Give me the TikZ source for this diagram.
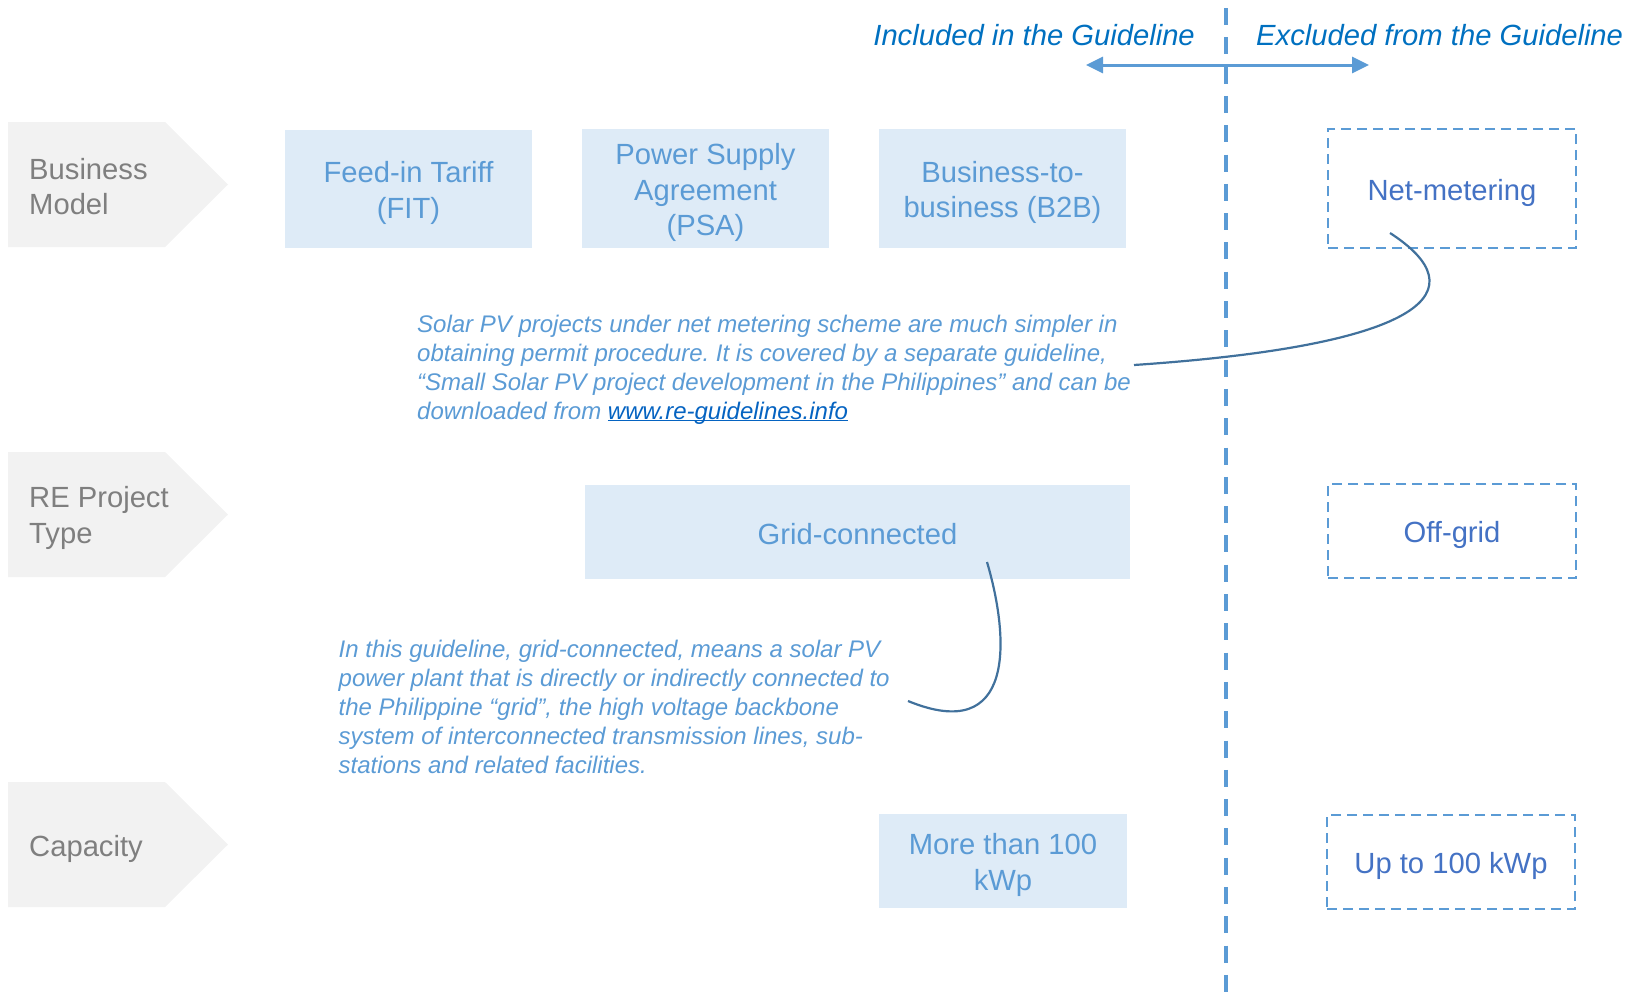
\documentclass[tikz,border=0pt]{standalone}
\usepackage{fontspec}
\setmainfont{Liberation Sans}
\usetikzlibrary{arrows.meta}
\frenchspacing
\definecolor{boxfill}{HTML}{DEEBF7}
\definecolor{boxtext}{HTML}{5B9BD5}
\definecolor{exttext}{HTML}{4472C4}
\definecolor{hdr}{HTML}{0070C0}
\definecolor{greyfill}{HTML}{F2F2F2}
\definecolor{greytext}{HTML}{7F7F7F}
\definecolor{curvecol}{HTML}{41719C}
\definecolor{linkcol}{HTML}{0563C1}
\begin{document}
\begin{tikzpicture}[x=1pt,y=-1pt,
  inshape/.style={fill=boxfill, draw=none, inner sep=0pt},
  exshape/.style={draw=boxtext, line width=2.5pt, dash pattern=on 10pt off 6pt, fill=none, inner sep=0pt},
  intext/.style={text=boxtext, font=\fontsize{29.2}{35.4}\selectfont, align=center, inner sep=0pt},
  extext/.style={text=exttext, font=\fontsize{29.2}{35.4}\selectfont, align=center, inner sep=0pt},
  rowshape/.style={fill=greyfill},
  rowlabel/.style={text=greytext, font=\fontsize{29.2}{35.4}\selectfont, align=left, inner sep=0pt, anchor=west},
  hdrtext/.style={text=hdr, font=\fontsize{29.2}{35.4}\selectfont\itshape, inner sep=0pt},
  arrowline/.style={draw=boxtext, line width=3pt, {Triangle[length=17pt,width=16pt]}-{Triangle[length=17pt,width=16pt]}},
  divider/.style={draw=boxtext, line width=4pt, dash pattern=on 17pt off 12.3pt},
  note/.style={text=boxtext, font=\fontsize{24}{29}\selectfont\itshape, align=left, inner sep=0pt, anchor=base west},
  conn/.style={draw=curvecol, line width=2.2pt}
]
\useasboundingbox (0,0) rectangle (1633,1001);

% row arrows
\fill[rowshape] (8,122) -- (165,122) -- (228,184.5) -- (165,247) -- (8,247) -- cycle;
\fill[rowshape] (8,452) -- (165,452) -- (228,514.5) -- (165,577) -- (8,577) -- cycle;
\fill[rowshape] (8,782) -- (165,782) -- (228,844.5) -- (165,907) -- (8,907) -- cycle;
\node[rowlabel] (bm) at (29,186.5) {Business\\Model};
\node[rowlabel] (re) at (29,518) {RE Project\\Type};
\node[rowlabel] (cap) at (29,849) {Capacity};

% included boxes
\node[inshape, minimum width=247pt, minimum height=118pt] (fit) at (408.5,189) {};
\node[inshape, minimum width=247pt, minimum height=119pt] (psa) at (705.5,188.5) {};
\node[inshape, minimum width=247pt, minimum height=119pt] (b2b) at (1002.5,188.5) {};
\node[inshape, minimum width=545pt, minimum height=94pt] (grid) at (857.5,532) {};
\node[inshape, minimum width=248pt, minimum height=94pt] (more) at (1003,861) {};
\node[intext] (fitt) at ([yshift=-4pt]fit.center) {Feed-in Tariff\\(FIT)};
\node[intext] (psat) at ([yshift=-4pt]psa.center) {Power Supply\\Agreement\\(PSA)};
\node[intext] (b2bt) at ([yshift=-4pt]b2b.center) {Business-to-\\business (B2B)};
\node[intext] (gridt) at ([yshift=-2pt]grid.center) {Grid-connected};
\node[intext] (moret) at ([yshift=-4pt]more.center) {More than 100\\kWp};

% excluded boxes
\node[exshape, minimum width=248pt, minimum height=119pt] (net) at (1452,188.5) {};
\node[exshape, minimum width=248pt, minimum height=94pt] (off) at (1452,531) {};
\node[exshape, minimum width=248pt, minimum height=94pt] (upto) at (1451,862) {};
\node[extext] (nett) at ([yshift=-4pt]net.center) {Net-metering};
\node[extext] (offt) at ([yshift=-4pt]off.center) {Off-grid};
\node[extext] (uptot) at ([yshift=-4pt]upto.center) {Up to 100 kWp};

% header
\node[hdrtext, anchor=east] (inc) at (1195,35) {Included in the Guideline};
\node[hdrtext, anchor=west] (exc) at (1256,35) {Excluded from the Guideline};
\coordinate (al) at (1086,65);
\coordinate (ar) at (1369,65);
\draw[arrowline] (al) -- (ar);

% divider
\coordinate (vt) at (1226,8);
\coordinate (vb) at (1226,1001);
\draw[divider] (vt) -- (vb);

% notes (anchor = baseline of last line)
\node[note] (n1) at (417,419) {Solar PV projects under net metering scheme are much simpler in\\obtaining permit procedure. It is covered by a separate guideline,\\“Small Solar PV project development in the Philippines” and can be\\downloaded from {\color{linkcol}\underline{\smash{www.re-guidelines.info}}}};
\node[note] (n2) at (338.5,773) {In this guideline, grid-connected, means a solar PV\\power plant that is directly or indirectly connected to\\the Philippine “grid”, the high voltage backbone\\system of interconnected transmission lines, sub-\\stations and related facilities.};

% connectors
\coordinate (c1s) at (1390,233);
\coordinate (c1e) at (1134,365);
\draw[conn] (c1s) .. controls (1478,290) and (1430,345) .. (c1e);
\coordinate (c2s) at (987,562);
\coordinate (c2e) at (908,701);
\draw[conn] (c2s) .. controls (1010,640) and (1015,745) .. (c2e);
\end{tikzpicture}
\end{document}
